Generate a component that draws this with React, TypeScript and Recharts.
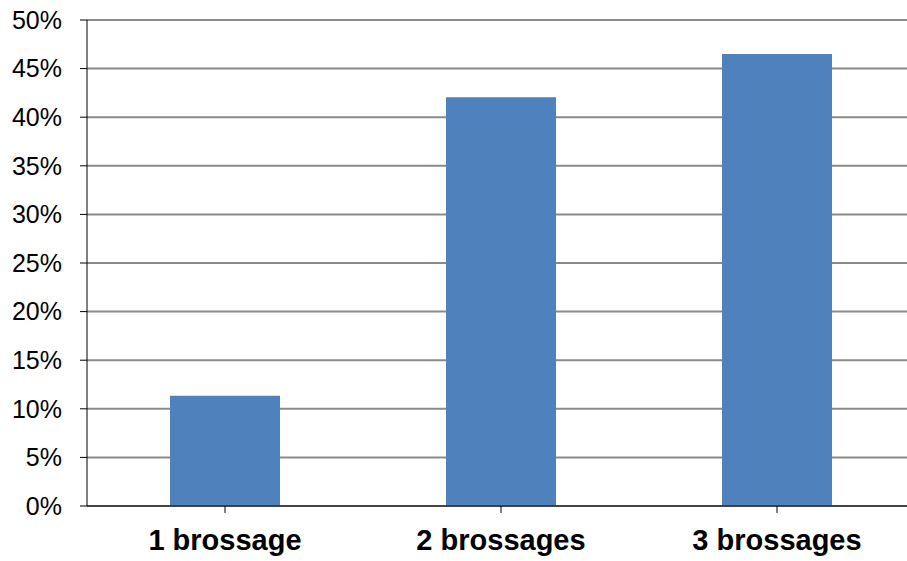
import React from 'react';
import { BarChart, Bar, XAxis, YAxis, CartesianGrid } from 'recharts';

const categories = ['1 brossage', '2 brossages', '3 brossages'];
const shares = [0.1135, 0.4205, 0.465];
const yTicks = [0, 0.05, 0.1, 0.15, 0.2, 0.25, 0.3, 0.35, 0.4, 0.45, 0.5];

const data = categories.map((name, i) => ({ name, value: shares[i] }));

const FONT = '"Liberation Sans", Arial, sans-serif';

export default function App() {
    return (
        <div
            style={{
                position: 'absolute',
                left: 0,
                top: 0,
                width: 907,
                height: 561,
                overflow: 'hidden',
                background: '#fff',
                fontFamily: FONT,
            }}
        >
            <BarChart
                width={930}
                height={561}
                data={data}
                margin={{ top: 20, right: 15, bottom: 0, left: 0 }}
            >
                <CartesianGrid vertical={false} stroke="#8a8a8a" strokeWidth={2} />
                <XAxis
                    dataKey="name"
                    height={55}
                    stroke="#000"
                    tickSize={7}
                    tickMargin={16}
                    interval={0}
                    tick={{ fill: '#000', fontSize: 29, fontWeight: 'bold', fontFamily: FONT }}
                />
                <YAxis
                    width={87}
                    domain={[0, 0.5]}
                    ticks={yTicks}
                    interval={0}
                    stroke="#000"
                    tickSize={7}
                    tickMargin={18}
                    tickFormatter={(v: number) => `${Math.round(v * 100)}%`}
                    tick={{ fill: '#000', fontSize: 25, fontFamily: FONT }}
                />
                <Bar dataKey="value" fill="#4f81bd" barSize={110} isAnimationActive={false} />
            </BarChart>
        </div>
    );
}
